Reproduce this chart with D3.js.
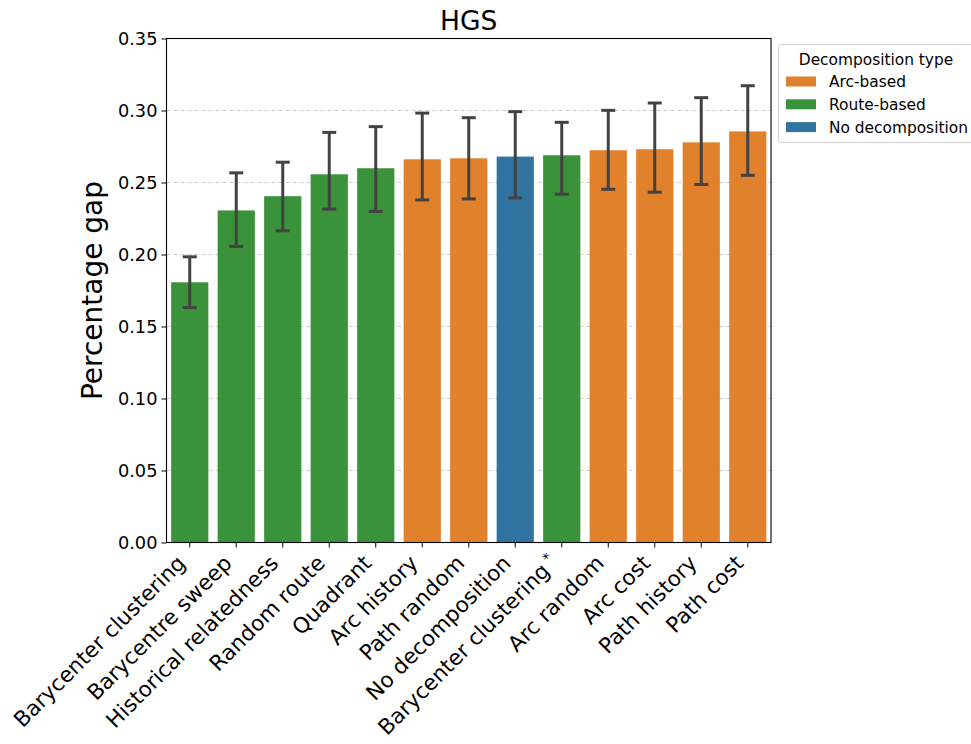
<!DOCTYPE html>
<html>
<head>
<meta charset="utf-8">
<script src="https://cdn.jsdelivr.net/npm/d3@7"></script>
<style>
  html, body { margin: 0; padding: 0; background: #fff; }
  svg { display: block; font-family: "DejaVu Sans", sans-serif; }
</style>
</head>
<body>
<svg id="chart" width="971" height="744"></svg>
<script>
// Heuristics, ordered by mean gap
const categories = [
  "Barycenter clustering", "Barycentre sweep", "Historical relatedness",
  "Random route", "Quadrant", "Arc history", "Path random",
  "No decomposition", "Barycenter clustering*", "Arc random",
  "Arc cost", "Path history", "Path cost"
];
const types = [
  "Route-based", "Route-based", "Route-based", "Route-based", "Route-based",
  "Arc-based", "Arc-based", "No decomposition", "Route-based",
  "Arc-based", "Arc-based", "Arc-based", "Arc-based"
];
const meanGap = [0.1807, 0.2306, 0.2405, 0.2557, 0.2599, 0.2661, 0.2668,
                 0.2680, 0.2689, 0.2724, 0.2731, 0.2779, 0.2855];
const ciLow   = [0.1631, 0.2056, 0.2165, 0.2315, 0.2299, 0.2379, 0.2386,
                 0.2393, 0.2419, 0.2453, 0.2433, 0.2486, 0.2550];
const ciHigh  = [0.1984, 0.2567, 0.2641, 0.2848, 0.2888, 0.2982, 0.2950,
                 0.2992, 0.2918, 0.3001, 0.3052, 0.3089, 0.3172];
const yTicks = [0.00, 0.05, 0.10, 0.15, 0.20, 0.25, 0.30, 0.35];
const legendTypes = ["Arc-based", "Route-based", "No decomposition"];
const typeColors = ["#e1812c", "#3a923a", "#3274a1"];

const svg = d3.select("#chart");
const margin = { left: 166.5, top: 38.5 };
const plotW = 771 - margin.left, plotH = 542.5 - margin.top;

const g = svg.append("g").attr("transform", `translate(${margin.left},${margin.top})`);

const x = d3.scaleBand().domain(categories).range([0, plotW]).paddingInner(0.2).paddingOuter(0.1);
const y = d3.scaleLinear().domain([0, 0.35]).range([plotH, 0]);
const color = d3.scaleOrdinal().domain(legendTypes).range(typeColors);

// horizontal dashed grid
g.append("g").selectAll("line").data(yTicks).join("line")
  .attr("x1", 0).attr("x2", plotW)
  .attr("y1", d => y(d)).attr("y2", d => y(d))
  .attr("stroke", "#cccccc").attr("stroke-width", 1).attr("stroke-dasharray", "4,3");

// bars
const rows = categories.map((c, i) => ({ c, t: types[i], v: meanGap[i], lo: ciLow[i], hi: ciHigh[i] }));
g.append("g").selectAll("rect").data(rows).join("rect")
  .attr("x", d => x(d.c)).attr("width", x.bandwidth())
  .attr("y", d => y(d.v)).attr("height", d => y(0) - y(d.v))
  .attr("fill", d => color(d.t));

// confidence intervals
const eb = g.append("g").attr("stroke", "#424242").attr("stroke-width", 3);
const capHalf = 7;
rows.forEach(d => {
  const cx = x(d.c) + x.bandwidth() / 2;
  eb.append("line").attr("x1", cx).attr("x2", cx).attr("y1", y(d.lo)).attr("y2", y(d.hi));
  eb.append("line").attr("x1", cx - capHalf).attr("x2", cx + capHalf).attr("y1", y(d.lo)).attr("y2", y(d.lo));
  eb.append("line").attr("x1", cx - capHalf).attr("x2", cx + capHalf).attr("y1", y(d.hi)).attr("y2", y(d.hi));
});

// frame
g.append("rect").attr("x", 0).attr("y", 0).attr("width", plotW).attr("height", plotH)
  .attr("fill", "none").attr("stroke", "#000").attr("stroke-width", 1.1);

// y axis
const yAxis = g.append("g").call(d3.axisLeft(y).tickValues(yTicks).tickFormat(d3.format(".2f")).tickSize(5).tickPadding(4));
yAxis.select(".domain").remove();
yAxis.selectAll("text").attr("font-size", 17.8).attr("fill", "#000").attr("font-family", "DejaVu Sans");
yAxis.selectAll("line").attr("stroke", "#000");

// x axis
const xAxis = g.append("g").attr("transform", `translate(0,${plotH})`)
  .call(d3.axisBottom(x).tickSize(5).tickFormat(""));
xAxis.select(".domain").remove();
xAxis.selectAll("line").attr("stroke", "#000");

// rotated category labels
const lab = g.append("g").attr("font-size", 21.5).attr("fill", "#000");
categories.forEach(c => {
  const cx = x(c) + x.bandwidth() / 2;
  const t = lab.append("text")
    .attr("text-anchor", "end")
    .attr("transform", `translate(${cx - 3},${plotH + 22}) rotate(-45)`);
  if (c.endsWith("*")) {
    t.append("tspan").text(c.slice(0, -1));
    t.append("tspan").attr("dx", 4).attr("dy", -8).attr("font-size", 14).text("*");
  } else {
    t.text(c);
  }
});

// axis title and chart title
svg.append("text").attr("transform", `translate(102,${margin.top + plotH / 2}) rotate(-90)`)
  .attr("text-anchor", "middle").attr("font-size", 28).text("Percentage gap");
svg.append("text").attr("x", margin.left + plotW / 2).attr("y", 30)
  .attr("text-anchor", "middle").attr("font-size", 26.5).text("HGS");

// legend
const lg = svg.append("g").attr("transform", "translate(778,44)");
lg.append("rect").attr("x", 0.5).attr("y", 0.5).attr("width", 215).attr("height", 98).attr("rx", 3)
  .attr("fill", "#fff").attr("stroke", "#d0d0d0");
lg.append("text").attr("x", 98).attr("y", 20.5).attr("text-anchor", "middle").attr("font-size", 15.4).text("Decomposition type");
legendTypes.forEach((t, i) => {
  const yy = 37.5 + i * 22.8;
  lg.append("rect").attr("x", 8).attr("y", yy - 5).attr("width", 30).attr("height", 10).attr("fill", color(t));
  lg.append("text").attr("x", 51).attr("y", yy + 5.5).attr("font-size", 15.4).text(t);
});
</script>
</body>
</html>
